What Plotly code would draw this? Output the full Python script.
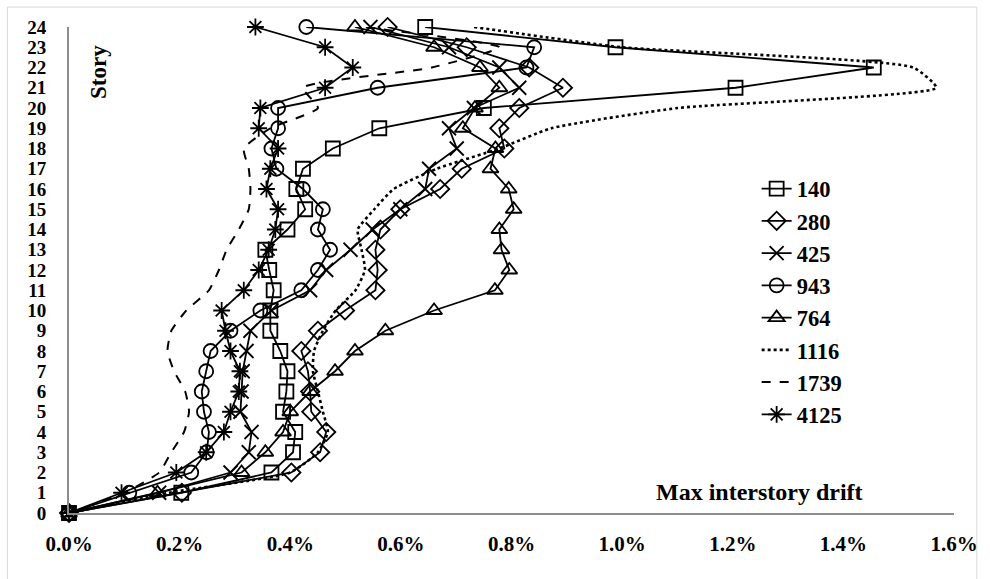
import plotly.graph_objects as go

# Storey numbers (0 = base) and peak inter-storey drift in percent per record
stories = list(range(25))

drift_140 = [0, 0.203, 0.366, 0.405, 0.409, 0.387, 0.393, 0.395, 0.382, 0.364, 0.364, 0.370, 0.362,
             0.355, 0.395, 0.427, 0.411, 0.423, 0.477, 0.561, 0.750, 1.205, 1.455, 0.988, 0.644]
drift_280 = [0, 0.204, 0.402, 0.454, 0.465, 0.438, 0.436, 0.432, 0.420, 0.450, 0.499, 0.554, 0.558,
             0.554, 0.563, 0.599, 0.671, 0.710, 0.787, 0.778, 0.814, 0.893, 0.832, 0.719, 0.576]
drift_425 = [0, 0.163, 0.292, 0.325, 0.330, 0.310, 0.312, 0.314, 0.321, 0.328, 0.366, 0.436, 0.465,
             0.509, 0.549, 0.599, 0.644, 0.651, 0.701, 0.687, 0.732, 0.814, 0.778, 0.687, 0.545]
drift_943 = [0, 0.109, 0.221, 0.249, 0.253, 0.244, 0.240, 0.248, 0.256, 0.292, 0.346, 0.420, 0.450,
             0.472, 0.450, 0.459, 0.423, 0.375, 0.366, 0.378, 0.378, 0.558, 0.827, 0.841, 0.429]
drift_764 = [0, 0.160, 0.312, 0.355, 0.387, 0.400, 0.436, 0.481, 0.517, 0.572, 0.660, 0.770, 0.796,
             0.782, 0.778, 0.804, 0.795, 0.762, 0.771, 0.712, 0.734, 0.778, 0.743, 0.660, 0.517]
drift_1116 = [0, 0.180, 0.400, 0.450, 0.468, 0.459, 0.450, 0.441, 0.443, 0.459, 0.482, 0.518, 0.535,
              0.529, 0.522, 0.552, 0.587, 0.665, 0.778, 0.872, 1.101, 1.568, 1.526, 1.000, 0.732]
drift_1739 = [0, 0.100, 0.163, 0.185, 0.208, 0.217, 0.210, 0.190, 0.178, 0.185, 0.212, 0.253, 0.271,
              0.285, 0.307, 0.325, 0.328, 0.325, 0.316, 0.364, 0.450, 0.423, 0.656, 0.778, 0.530]
drift_4125 = [0, 0.095, 0.194, 0.248, 0.280, 0.292, 0.307, 0.309, 0.292, 0.283, 0.276, 0.316, 0.343,
              0.361, 0.373, 0.378, 0.357, 0.364, 0.378, 0.343, 0.346, 0.463, 0.513, 0.463, 0.337]

x_ticks = [0.0, 0.2, 0.4, 0.6, 0.8, 1.0, 1.2, 1.4, 1.6]
x_tick_text = [f"{v:.1f}%" for v in x_ticks]

FONT = "Liberation Serif"
INK = "black"

series = [
    ("140", drift_140, "square-open", "solid", "linear"),
    ("280", drift_280, "diamond-open", "solid", "linear"),
    ("425", drift_425, "x-thin-open", "solid", "linear"),
    ("943", drift_943, "circle-open", "solid", "linear"),
    ("764", drift_764, "triangle-up-open", "solid", "linear"),
    ("1116", drift_1116, None, "dot", "spline"),
    ("1739", drift_1739, None, "dash", "spline"),
    ("4125", drift_4125, "asterisk-open", "solid", "linear"),
]

fig = go.Figure()
for name, vals, symbol, dash, shape in series:
    if symbol is None:
        fig.add_trace(go.Scatter(
            x=vals, y=stories, name=name, mode="lines", cliponaxis=False,
            line=dict(color=INK, width=2.6 if dash == "dot" else 2.0, dash=dash,
                      shape=shape, smoothing=0.5),
        ))
    else:
        fig.add_trace(go.Scatter(
            x=vals, y=stories, name=name, mode="lines+markers", cliponaxis=False,
            line=dict(color=INK, width=1.8, shape=shape),
            marker=dict(symbol=symbol, size=14, color=INK,
                        line=dict(color=INK, width=1.8)),
        ))

fig.update_layout(
    width=990, height=579,
    margin=dict(l=69, r=30, t=27, b=66),
    paper_bgcolor="white", plot_bgcolor="white",
    font=dict(family=FONT, color=INK, size=21, weight="bold"),
    showlegend=True,
    legend=dict(
        x=0.777, y=0.711, xanchor="left", yanchor="top",
        bgcolor="rgba(0,0,0,0)", borderwidth=0,
        font=dict(family=FONT, size=22.5, color=INK, weight="bold"),
        itemwidth=30, tracegroupgap=0,
    ),
    xaxis=dict(
        range=[0, 1.6], tickvals=x_ticks, ticktext=x_tick_text,
        showgrid=False, zeroline=False,
        showline=True, linecolor="#8c8c8c", linewidth=2,
        ticks="", ticklabelstandoff=11,
        tickfont=dict(family=FONT, size=21, color=INK, weight="bold"),
    ),
    yaxis=dict(
        range=[0, 24], dtick=1,
        showgrid=False, zeroline=False,
        showline=True, linecolor="#8c8c8c", linewidth=2,
        ticks="", ticklabelstandoff=17,
        tickfont=dict(family=FONT, size=19, color=INK, weight="bold"),
    ),
    annotations=[
        dict(text="Story", xref="paper", yref="paper", x=0.0325, y=0.907,
             xanchor="center", yanchor="middle",
             textangle=-90, showarrow=False,
             font=dict(family=FONT, size=23, color=INK, weight="bold")),
        dict(text="Max interstory drift", xref="paper", yref="paper", x=0.78, y=0.043,
             xanchor="center", yanchor="middle",
             showarrow=False,
             font=dict(family=FONT, size=24, color=INK, weight="bold")),
    ],
    shapes=[
        dict(type="rect", xref="paper", yref="paper",
             x0=-0.0696, x1=1.0258, y0=-0.2, y1=1.041,
             line=dict(color="#d9d9d9", width=1), layer="below"),
    ],
)

fig.write_html("out.html")
